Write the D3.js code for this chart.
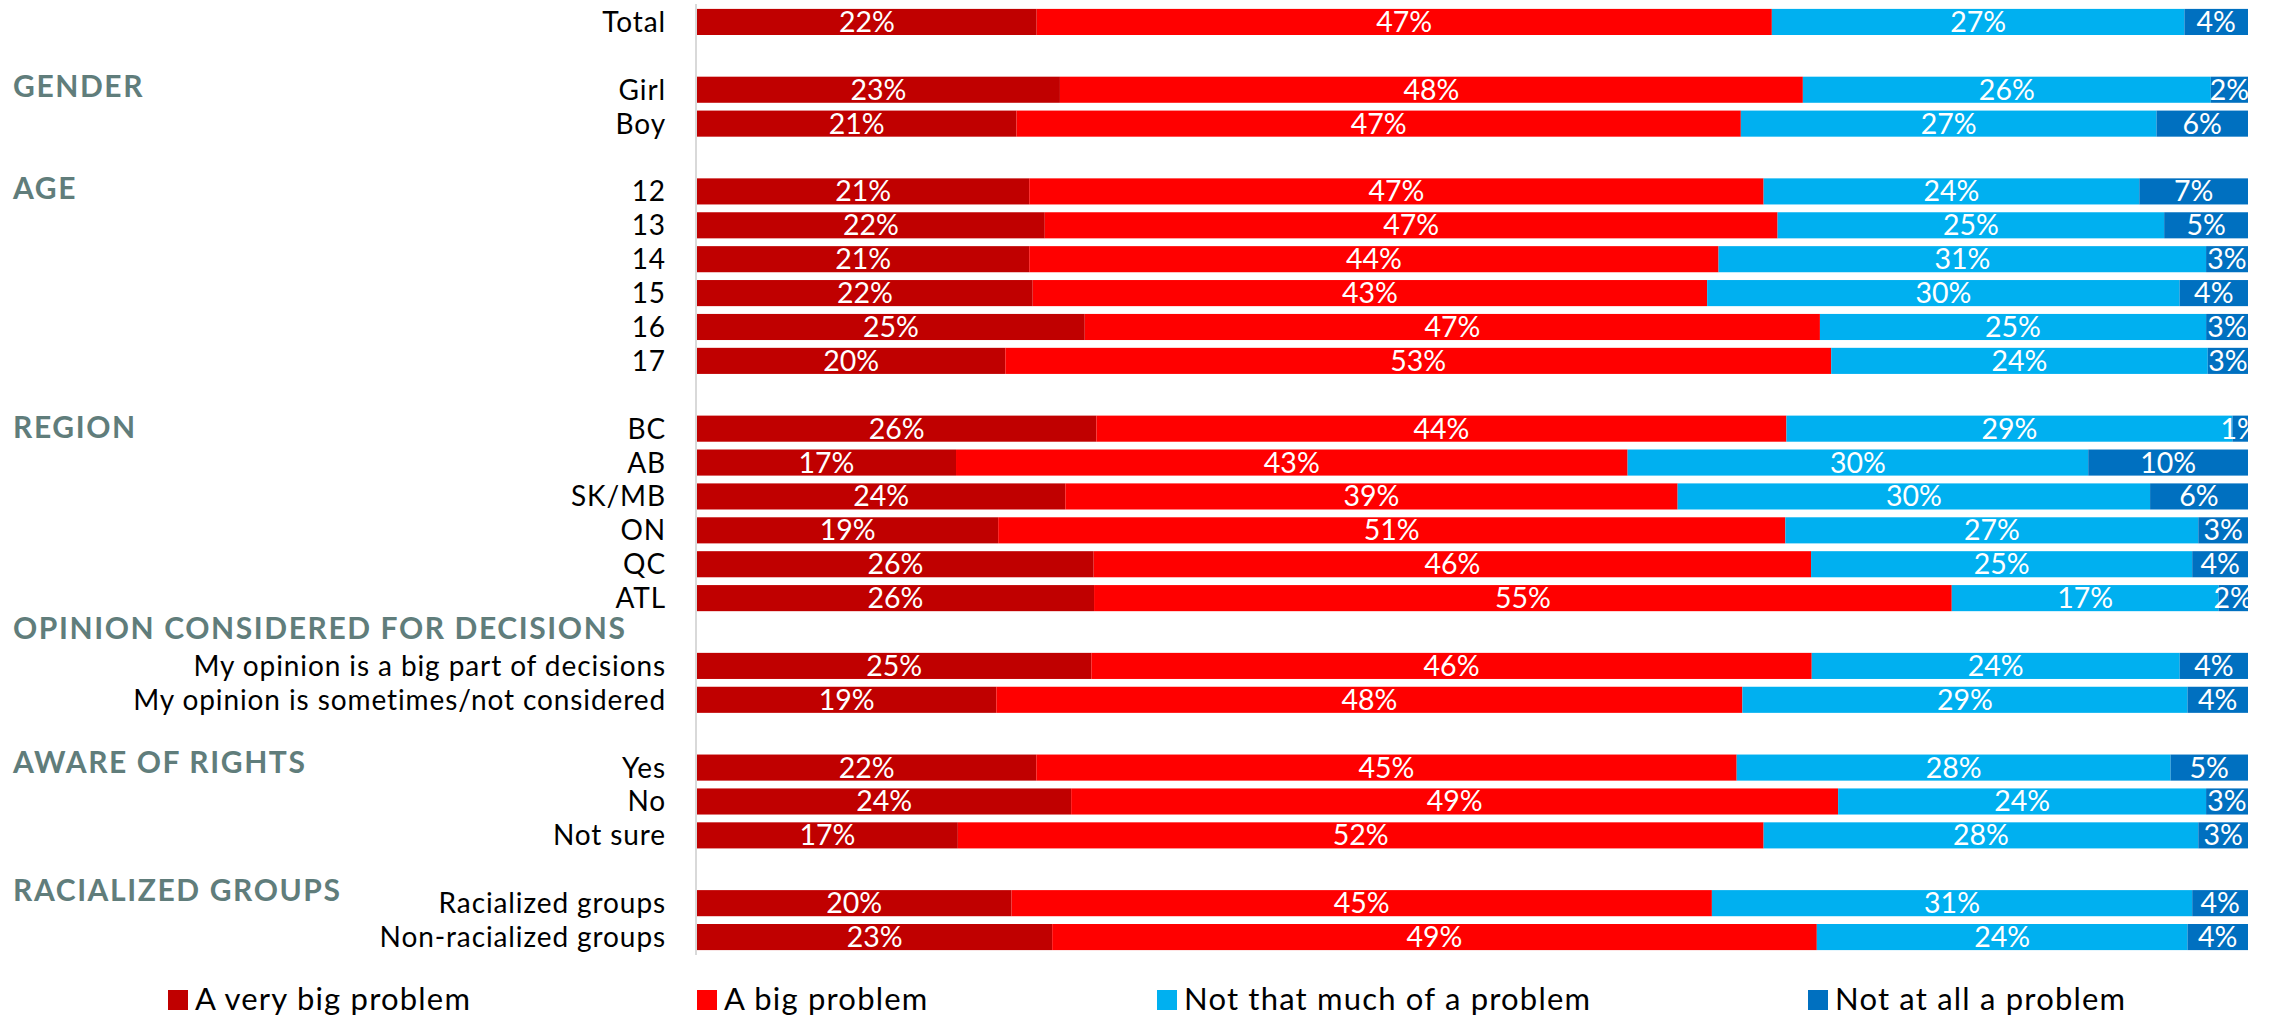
<!DOCTYPE html>
<html><head><meta charset="utf-8">
<script src="https://cdn.jsdelivr.net/npm/d3@7"></script>
<style>body{margin:0;background:#fff;} text{font-family:Lato,"Open Sans",sans-serif;}</style>
</head><body>
<svg id="chart" width="2274" height="1019"></svg>
<script>
// ---------- DATA ----------
const categories = ["Total",
  "Girl", "Boy",
  "12", "13", "14", "15", "16", "17",
  "BC", "AB", "SK/MB", "ON", "QC", "ATL",
  "My opinion is a big part of decisions", "My opinion is sometimes/not considered",
  "Yes", "No", "Not sure",
  "Racialized groups", "Non-racialized groups"];
const groupNames = ["", "GENDER", "AGE", "REGION", "OPINION CONSIDERED FOR DECISIONS", "AWARE OF RIGHTS", "RACIALIZED GROUPS"];
const groupSizes = [1, 2, 6, 6, 2, 3, 2];
const seriesNames = ["A very big problem", "A big problem", "Not that much of a problem", "Not at all a problem"];
const veryBig  = [21.9, 23.4, 20.6, 21.4, 22.4, 21.4, 21.6, 25.0, 19.9, 25.7, 16.7, 23.7, 19.4, 25.6, 25.6, 25.4, 19.3, 21.9, 24.1, 16.8, 20.3, 22.9];
const big      = [47.4, 47.9, 46.7, 47.3, 47.2, 44.4, 43.4, 47.4, 53.3, 44.4, 43.3, 39.4, 50.7, 46.3, 55.3, 46.4, 48.1, 45.2, 49.4, 51.9, 45.2, 49.3];
const notMuch  = [26.6, 26.3, 26.8, 24.2, 24.9, 31.4, 30.4, 24.9, 24.3, 28.7, 29.7, 30.4, 26.6, 24.6, 17.2, 23.7, 28.7, 28.0, 23.7, 28.0, 31.0, 23.9];
const notAtAll = [4.1, 2.4, 5.9, 7.0, 5.4, 2.7, 4.4, 2.7, 2.6, 1.0, 10.3, 6.3, 3.2, 3.6, 1.9, 4.4, 3.9, 5.0, 2.7, 3.2, 3.6, 3.9];

// ---------- STYLE / LAYOUT ----------
const colors = ["#C00000", "#FF0000", "#00B0F0", "#0070C0"];
const headerColor = "#607D7B";
const headerOffsets = [0, 0.90, 0.91, 0.96, -0.10, 0.84, 0.63]; // in steps, relative to gap slot
const legendX = [168, 697, 1157, 1808];

const svg = d3.select("#chart");

// build the band domain with gap slots before each group
const slots = []; const gapIds = [];
let k = 0;
groupSizes.forEach((n, g) => {
  if (g > 0) { const id = "__gap" + g; slots.push(id); gapIds[g] = id; }
  for (let i = 0; i < n; i++) slots.push(categories[k++]);
});

const y = d3.scaleBand().domain(slots).range([5, 954]).paddingInner(0.23).paddingOuter(0.115);
const x = d3.scaleLinear().domain([0, 1]).range([697, 2248]);
const color = d3.scaleOrdinal().domain(seriesNames).range(colors);

const seriesVals = [veryBig, big, notMuch, notAtAll];
const table = categories.map((c, i) => {
  const o = { cat: c };
  seriesNames.forEach((s, j) => o[s] = seriesVals[j][i]);
  return o;
});
const stacked = d3.stack().keys(seriesNames).offset(d3.stackOffsetExpand)(table);

// clip for plot area
svg.append("defs").append("clipPath").attr("id", "plotclip")
  .append("rect").attr("x", x.range()[0]).attr("y", 0)
  .attr("width", x.range()[1] - x.range()[0]).attr("height", 1019);

// axis line
svg.append("line").attr("x1", 696).attr("x2", 696).attr("y1", 4).attr("y2", 955)
  .attr("stroke", "#D9D9D9").attr("stroke-width", 2);

const plot = svg.append("g").attr("clip-path", "url(#plotclip)");
const layers = plot.selectAll("g.layer").data(stacked).join("g")
  .attr("class", "layer").attr("fill", d => color(d.key));
layers.selectAll("rect").data(d => d.map(p => ({ p, key: d.key }))).join("rect")
  .attr("x", d => x(d.p[0]))
  .attr("y", d => y(d.p.data.cat))
  .attr("width", d => x(d.p[1]) - x(d.p[0]))
  .attr("height", y.bandwidth());

const bw = y.bandwidth();
layers.selectAll("text").data(d => d.map(p => ({ p, key: d.key }))).join("text")
  .attr("x", d => (x(d.p[0]) + x(d.p[1])) / 2)
  .attr("y", d => y(d.p.data.cat) + bw / 2 + 10)
  .attr("text-anchor", "middle")
  .attr("fill", "#fff")
  .attr("font-size", 28.5)
  .text(d => Math.round(d.p.data[d.key]) + "%");

// category labels
svg.append("g").selectAll("text").data(categories).join("text")
  .attr("x", 666)
  .attr("y", d => y(d) + bw / 2 + 10)
  .attr("text-anchor", "end")
  .attr("font-size", 28)
  .attr("letter-spacing", 0.9)
  .attr("fill", "#000")
  .text(d => d);

// group headers
const step = y.step();
svg.append("g").selectAll("text").data(groupNames.map((n, g) => ({ n, g })).filter(d => d.g > 0)).join("text")
  .attr("x", 13)
  .attr("y", d => y(gapIds[d.g]) + bw / 2 + headerOffsets[d.g] * step + 10.5)
  .attr("font-size", 30)
  .attr("letter-spacing", 1.6)
  .attr("font-weight", "bold")
  .attr("fill", headerColor)
  .text(d => d.n);

// legend
const leg = svg.append("g").selectAll("g").data(seriesNames).join("g")
  .attr("transform", (d, i) => `translate(${legendX[i]},990)`);
leg.append("rect").attr("width", 20).attr("height", 20).attr("fill", d => color(d));
leg.append("text").attr("x", 27).attr("y", 20).attr("font-size", 31).attr("letter-spacing", 1.2)
  .attr("fill", "#000").text(d => d);
</script>
</body></html>
